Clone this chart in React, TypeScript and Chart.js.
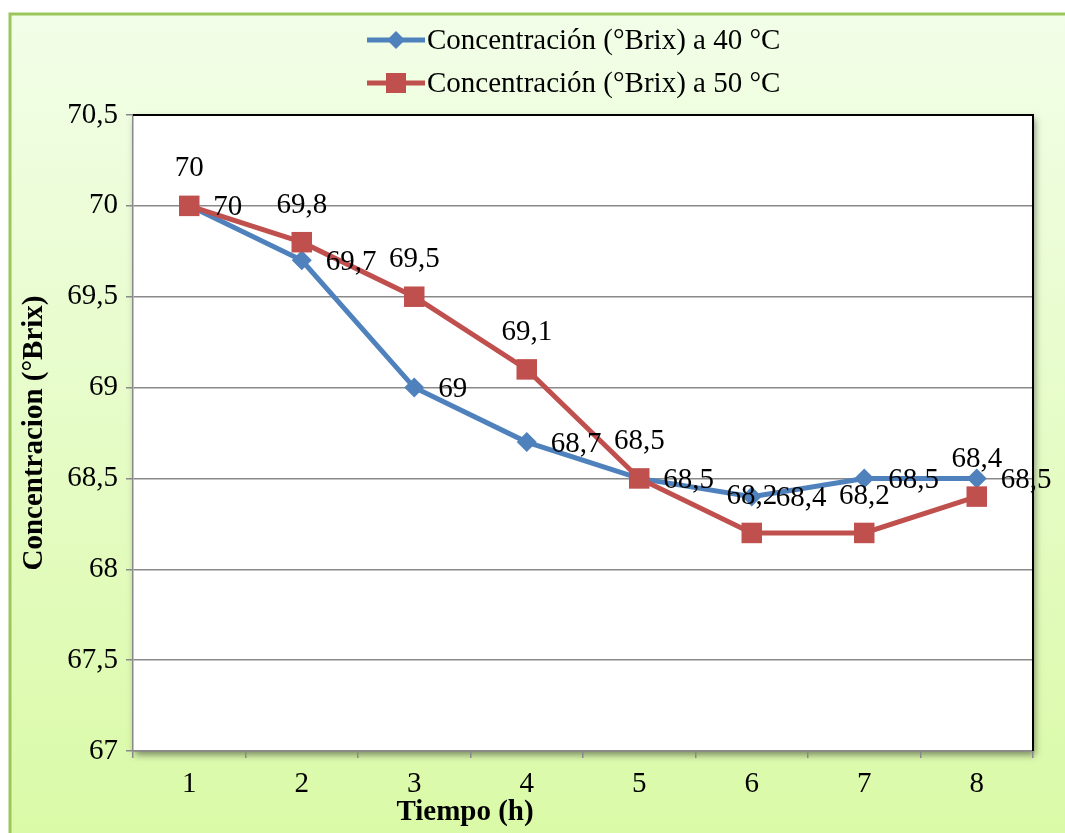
import React, { useEffect, useRef } from "react";
import { Chart, registerables } from "chart.js";

Chart.register(...registerables);

const categories = ["1", "2", "3", "4", "5", "6", "7", "8"];
const serie40 = [70, 69.7, 69, 68.7, 68.5, 68.4, 68.5, 68.5];
const serie50 = [70, 69.8, 69.5, 69.1, 68.5, 68.2, 68.2, 68.4];
const seriesNames = ["Concentración (°Brix) a 40 °C", "Concentración (°Brix) a 50 °C"];
const yTitle = "Concentracion (°Brix)";
const xTitle = "Tiempo (h)";

const BLUE = "#4f81bd";
const RED = "#c0504d";
const FONT = "'Liberation Serif', 'Times New Roman', serif";
const FS = 29;
const W = 1065;
const H = 833;

const fmt = (v: number) => String(v).replace(".", ",");

const decorPlugin = {
  id: "decor",
  beforeDraw(chart: any) {
    const ctx = chart.ctx;
    const a = chart.chartArea;
    ctx.save();
    ctx.fillStyle = "#ffffff";
    ctx.fillRect(0, 0, W, H);
    const g = ctx.createLinearGradient(0, 14, 0, H);
    g.addColorStop(0, "#f2fee8");
    g.addColorStop(1, "#dafaa7");
    ctx.fillStyle = g;
    ctx.fillRect(10, 14, W, H);
    ctx.strokeStyle = "#9bc75a";
    ctx.lineWidth = 3;
    ctx.strokeRect(10, 14, W + 10, H + 10);
    ctx.shadowColor = "rgba(0,0,0,0.45)";
    ctx.shadowBlur = 7;
    ctx.shadowOffsetX = 2;
    ctx.shadowOffsetY = 4;
    ctx.fillStyle = "#ffffff";
    ctx.fillRect(a.left, a.top, a.right - a.left, a.bottom - a.top);
    ctx.restore();
  },
  afterDraw(chart: any) {
    const ctx = chart.ctx;
    const a = chart.chartArea;
    ctx.save();
    ctx.strokeStyle = "#000000";
    ctx.lineWidth = 2;
    ctx.beginPath();
    ctx.moveTo(a.left, a.top);
    ctx.lineTo(a.right, a.top);
    ctx.lineTo(a.right, a.bottom);
    ctx.stroke();

    ctx.fillStyle = "#000000";
    ctx.font = `${FS}px ${FONT}`;
    const m40 = chart.getDatasetMeta(0);
    const m50 = chart.getDatasetMeta(1);
    const d40 = chart.data.datasets[0].data as number[];
    const d50 = chart.data.datasets[1].data as number[];
    ctx.textAlign = "left";
    ctx.textBaseline = "middle";
    m40.data.forEach((p: any, i: number) => {
      ctx.fillText(fmt(d40[i]), p.x + 24, p.y + 2);
    });
    ctx.textAlign = "center";
    m50.data.forEach((p: any, i: number) => {
      ctx.fillText(fmt(d50[i]), p.x, p.y - 37);
    });

    const colors = [BLUE, RED];
    seriesNames.forEach((name, i) => {
      const y = 40 + i * 43;
      ctx.strokeStyle = colors[i];
      ctx.lineWidth = 5;
      ctx.beginPath();
      ctx.moveTo(367, y);
      ctx.lineTo(425, y);
      ctx.stroke();
      ctx.fillStyle = colors[i];
      if (i === 0) {
        ctx.beginPath();
        ctx.moveTo(396, y - 9);
        ctx.lineTo(405, y);
        ctx.lineTo(396, y + 9);
        ctx.lineTo(387, y);
        ctx.closePath();
        ctx.fill();
      } else {
        ctx.fillRect(386, y - 10, 20, 20);
      }
      ctx.fillStyle = "#000000";
      ctx.textAlign = "left";
      ctx.textBaseline = "middle";
      ctx.font = `${FS}px ${FONT}`;
      ctx.fillText(name, 427, y + 1);
    });

    ctx.font = `bold ${FS}px ${FONT}`;
    ctx.textAlign = "center";
    ctx.textBaseline = "middle";
    ctx.fillText(xTitle, 465, 813);
    ctx.translate(35, (a.top + a.bottom) / 2);
    ctx.rotate(-Math.PI / 2);
    ctx.fillText(yTitle, 0, 0);
    ctx.restore();
  },
};

export default function App() {
  const ref = useRef<HTMLCanvasElement>(null);
  useEffect(() => {
    document.body.style.margin = "0";
    const canvas = ref.current!;
    const chart = new Chart(canvas, {
      type: "line",
      data: {
        labels: categories,
        datasets: [
          {
            label: seriesNames[0],
            data: serie40,
            borderColor: BLUE,
            backgroundColor: BLUE,
            borderWidth: 5,
            pointStyle: "rectRot",
            pointRadius: 10,
            pointBorderWidth: 0,
            pointBackgroundColor: BLUE,
            tension: 0,
            order: 1,
            clip: false,
          },
          {
            label: seriesNames[1],
            data: serie50,
            borderColor: RED,
            backgroundColor: RED,
            borderWidth: 5,
            pointStyle: "rect",
            pointRadius: 14.5,
            pointBorderWidth: 0,
            pointBackgroundColor: RED,
            tension: 0,
            order: 0,
            clip: false,
          },
        ],
      },
      options: {
        responsive: false,
        animation: false,
        devicePixelRatio: 1,
        layout: { padding: { top: 115, right: 32, bottom: 0, left: 0 } },
        plugins: {
          legend: { display: false },
          tooltip: { enabled: false },
          title: { display: false },
        },
        scales: {
          x: {
            type: "category",
            offset: true,
            afterFit(scale: any) {
              scale.height = 82;
            },
            grid: {
              offset: true,
              drawOnChartArea: false,
              drawTicks: true,
              tickLength: 7,
              color: "#898989",
              lineWidth: 1.5,
            },
            border: { display: true, color: "#898989", width: 1.5 },
            ticks: {
              color: "#000000",
              padding: 9,
              font: { family: FONT, size: FS },
              maxRotation: 0,
            },
          },
          y: {
            min: 67,
            max: 70.5,
            afterFit(scale: any) {
              scale.width = 133;
            },
            grid: {
              color: "#898989",
              lineWidth: 1.5,
              drawTicks: true,
              tickLength: 7,
              tickColor: "#898989",
            },
            border: { display: true, color: "#898989", width: 1.5 },
            ticks: {
              stepSize: 0.5,
              color: "#000000",
              padding: 8,
              font: { family: FONT, size: FS },
              callback: (v: any) => fmt(Number(v)),
            },
          },
        },
      },
      plugins: [decorPlugin],
    });
    return () => chart.destroy();
  }, []);
  return <canvas ref={ref} width={W} height={H} style={{ display: "block", width: W, height: H }} />;
}
